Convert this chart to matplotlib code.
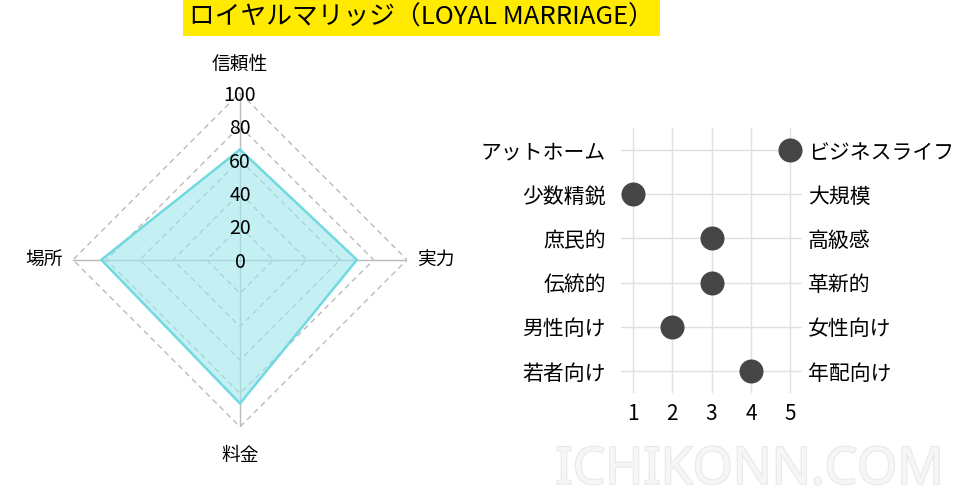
import numpy as np
import matplotlib
matplotlib.use("Agg")
from matplotlib import pyplot as plt
from matplotlib import patheffects as pe

plt.rcParams['font.family'] = ['Noto Sans CJK JP', 'DejaVu Sans']

# Radar data
radar_labels = ["信頼性", "実力", "料金", "場所"]
radar_values = [66, 70, 86, 83]
radar_ticks = [0, 20, 40, 60, 80, 100]

# Positioning data (1-5 scale)
left_labels = ["アットホーム", "少数精鋭", "庶民的", "伝統的", "男性向け", "若者向け"]
right_labels = ["ビジネスライフ", "大規模", "高級感", "革新的", "女性向け", "年配向け"]
scores = [5, 1, 3, 3, 2, 4]
x_ticks = [1, 2, 3, 4, 5]

fig = plt.figure(figsize=(9.6, 5.04), dpi=100)

# Title with yellow background
fig.text(0.439, 0.966, "ロイヤルマリッジ（LOYAL MARRIAGE）", fontsize=18.5, ha="center", va="center",
         bbox=dict(boxstyle="square,pad=0.22", facecolor="#ffea00", edgecolor="none"))

# ---- Radar chart ----
ax = fig.add_axes([0.076, 0.153, 0.348, 0.663], projection="polar")
ax.set_theta_zero_location("N")
ax.set_theta_direction(-1)
ax.set_ylim(0, 100)
ax.grid(False)
ax.spines["polar"].set_visible(False)
ax.set_xticks([])
ax.set_yticks([])
ax.patch.set_alpha(0)

n = len(radar_labels)
angles = np.linspace(0, 2 * np.pi, n, endpoint=False)
closed = np.append(angles, angles[0])

for r in radar_ticks[1:]:
    ax.plot(closed, [r] * (n + 1), color="#bbbbbb", lw=1, ls=(0, (4, 3)), zorder=1)
for a in angles:
    ax.plot([a, a], [0, 100], color="#bbbbbb", lw=1, zorder=1)

vals = radar_values + radar_values[:1]
ax.fill(closed, vals, color="#9ee6ec", alpha=0.6, zorder=2)
ax.plot(closed, vals, color="#72d9e0", lw=1.8, zorder=3)

for r in radar_ticks:
    ax.text(0, r, str(r), ha="center", va="center_baseline", fontsize=14, zorder=4)
for a, lab in zip(angles, radar_labels):
    ax.text(a, 117, lab, ha="center", va="center", fontsize=13.5)

# ---- Positioning dot chart ----
bx = fig.add_axes([0.647, 0.22, 0.1885, 0.526])
rows = np.arange(1, len(scores) + 1)
bx.scatter(scores, rows, s=300, color="#3c3c3c", alpha=0.95, zorder=3, linewidths=0)
bx.set_xlim(0.7, 5.3)
bx.set_ylim(6.5, 0.5)
bx.set_xticks(x_ticks)
bx.set_yticks(rows)
bx.set_yticklabels(left_labels, fontsize=15)
bx.tick_params(axis="both", length=0)
bx.tick_params(axis="y", pad=11)
bx.tick_params(axis="x", pad=7, labelsize=15)
bx.grid(True, color="#e0e0e0", lw=1)
bx.set_axisbelow(True)
for s in bx.spines.values():
    s.set_visible(False)

bx2 = bx.twinx()
bx2.set_ylim(bx.get_ylim())
bx2.set_yticks(rows)
bx2.set_yticklabels(right_labels, fontsize=15)
bx2.tick_params(axis="y", length=0, pad=4)
for s in bx2.spines.values():
    s.set_visible(False)

# Watermark
fig.text(0.781, 0.067, "ICHIKONN.COM", fontsize=37, ha="center", va="center", color="#f6f6f6",
         family=["Noto Sans", "DejaVu Sans"],
         path_effects=[pe.withStroke(linewidth=1.5, foreground="#e8e8e8")])

fig.savefig("out.png", dpi=100)
